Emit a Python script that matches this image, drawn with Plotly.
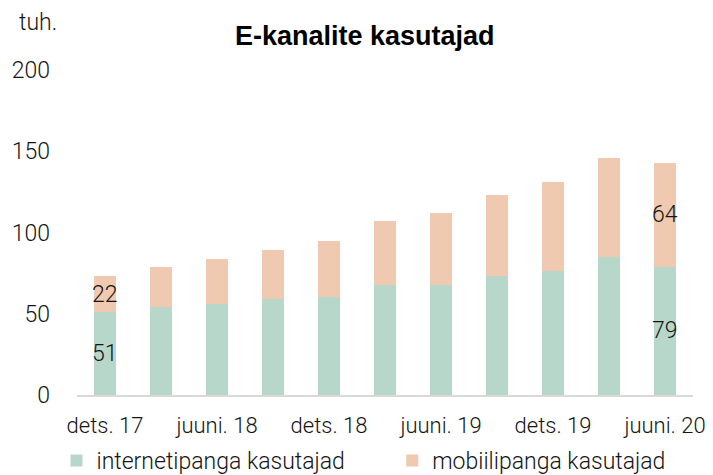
import plotly.graph_objects as go

categories = ["dets. 17", "märts. 18", "juuni. 18", "sept. 18", "dets. 18", "märts. 19",
              "juuni. 19", "sept. 19", "dets. 19", "märts. 20", "juuni. 20"]
internet = [51, 54, 56, 59, 60.5, 67.5, 68, 73.5, 76.5, 85, 79]
mobile = [22, 24.5, 27.5, 30, 34.5, 39.5, 44, 49.5, 54.5, 61, 64]
tick_labels = categories[::2]
y_ticks = [0, 50, 100, 150, 200]

FONT = "Roboto"
TFONT = "Liberation Sans"
GREEN = "#b7d7cb"
PEACH = "#efc9b0"
TXT = "#151515"

fig = go.Figure()
fig.add_trace(go.Bar(x=categories, y=internet, name="internetipanga kasutajad",
                     marker=dict(color=GREEN, line=dict(width=0)), legend="legend"))
fig.add_trace(go.Bar(x=categories, y=mobile, name="mobiilipanga kasutajad",
                     marker=dict(color=PEACH, line=dict(width=0)), legend="legend2"))

# labels on first and last bars
for i in (0, len(categories) - 1):
    fig.add_annotation(x=categories[i], y=internet[i] / 2, text=f"{internet[i]:g}",
                       showarrow=False, font=dict(size=23, color=TXT, family=FONT, weight=300))
    fig.add_annotation(x=categories[i], y=internet[i] + mobile[i] / 2, text=f"{mobile[i]:g}",
                       showarrow=False, font=dict(size=23, color=TXT, family=FONT, weight=300))

fig.add_annotation(xref="paper", yref="paper", x=-0.097, y=1.145, text="tuh.",
                   showarrow=False, xanchor="left", yanchor="middle",
                   font=dict(size=23, color=TXT, family=FONT, weight=300))

legend_common = dict(orientation="h", xref="container", yref="container", y=0.031,
                     xanchor="left", yanchor="middle", bgcolor="rgba(0,0,0,0)",
                     font=dict(size=23, family=FONT, weight=300, color=TXT), itemwidth=30)

# the page body has an 8px default margin, so the figure is 8px smaller than the window
fig.update_layout(
    width=705, height=467,
    barmode="stack", bargap=0.6,
    plot_bgcolor="white", paper_bgcolor="white",
    margin=dict(l=69, r=20, t=62, b=80),
    font=dict(family=FONT, size=23, color=TXT, weight=300),
    title=dict(text="E-kanalite kasutajad", x=0.506, xanchor="center", y=0.94, yanchor="middle",
               font=dict(size=27, family=TFONT, color="#000", weight=700)),
    showlegend=True,
    legend=dict(x=0.0688, **legend_common),
    legend2=dict(x=0.545, **legend_common),
    xaxis=dict(tickvals=tick_labels, ticktext=tick_labels, showline=True, linecolor="#d9d9d9",
               linewidth=2, ticks="", showgrid=False, ticklabelstandoff=10, automargin=False,
               tickfont=dict(size=22, family=FONT, weight=300, color=TXT)),
    yaxis=dict(range=[0, 200], tickvals=y_ticks, showgrid=False, zeroline=False,
               showline=False, ticks="", ticklabelstandoff=26, automargin=False,
               tickfont=dict(size=23, family=FONT, weight=300, color=TXT)),
)

fig.write_html("out.html")
